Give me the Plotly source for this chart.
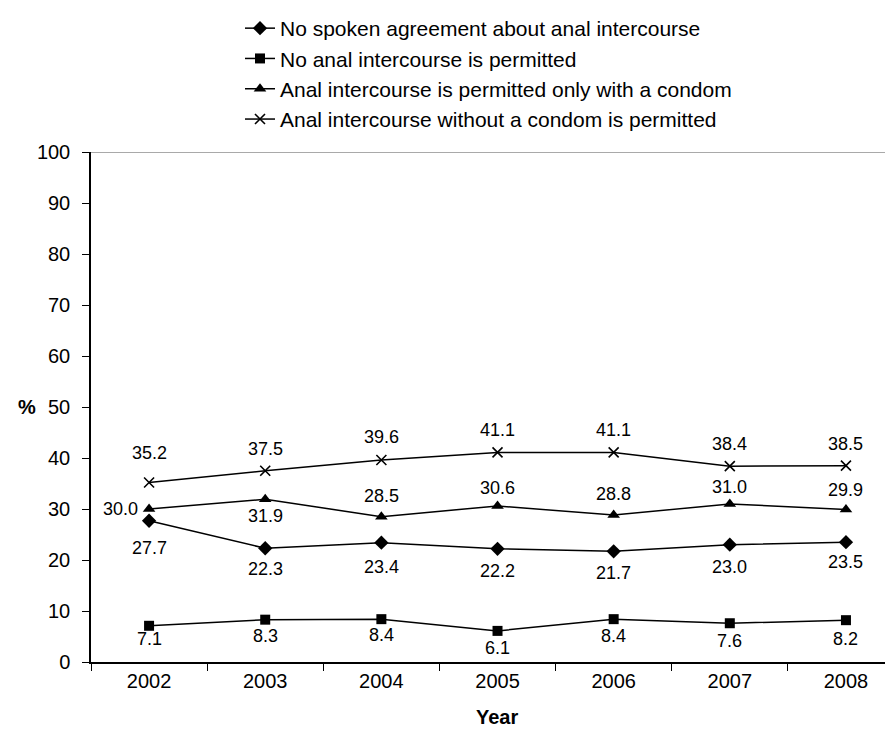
import plotly.graph_objects as go

years = ["2002", "2003", "2004", "2005", "2006", "2007", "2008"]
no_agreement = [27.7, 22.3, 23.4, 22.2, 21.7, 23.0, 23.5]
no_anal = [7.1, 8.3, 8.4, 6.1, 8.4, 7.6, 8.2]
condom_only = [30.0, 31.9, 28.5, 30.6, 28.8, 31.0, 29.9]
without_condom = [35.2, 37.5, 39.6, 41.1, 41.1, 38.4, 38.5]

names = [
    "No spoken agreement about anal intercourse",
    "No anal intercourse is permitted",
    "Anal intercourse is permitted only with a condom",
    "Anal intercourse without a condom is permitted",
]

FONT = "Liberation Sans, Arial, Helvetica, sans-serif"

series = [
    (names[0], no_agreement, dict(symbol="diamond", size=11)),
    (names[1], no_anal, dict(symbol="square", size=10)),
    (names[2], condom_only, dict(symbol="triangle-up", size=11)),
    (names[3], without_condom, dict(symbol="x-thin-open", size=10, line=dict(width=1.6, color="black"))),
]

# label offsets (pixels) for each series' data labels
label_yshift = [
    [-27, -21, -24, -22, -22, -22, -20],
    [-13, -16, -16, -17, -17, -18, -19],
    [0, -17, 21, 18, 21, 17, 20],
    [29, 22, 23, 22, 22, 22, 22],
]
label_xshift = [
    [0] * 7,
    [0] * 7,
    [-29, 0, 0, 0, 0, 0, 0],
    [0] * 7,
]

# page body has an 8px margin; the plot area is placed accordingly
W, H = 885, 721
L, T, B = 83, 137, 67
PW = W - L
PH = H - T - B

fig = go.Figure()
for (name, vals, mk), ys, xs in zip(series, label_yshift, label_xshift):
    fig.add_trace(go.Scatter(
        x=years, y=vals, name=name, mode="lines+markers",
        line=dict(color="black", width=1.5),
        marker=dict(color="black", **mk),
    ))
    for i, (v, dy, dx) in enumerate(zip(vals, ys, xs)):
        fig.add_annotation(x=i, y=v, xref="x", yref="y", text=f"{v:.1f}", showarrow=False,
                           xshift=dx, yshift=dy,
                           font=dict(family=FONT, size=18, color="black"))

fig.add_shape(type="line", xref="paper", yref="y", x0=0, x1=1, y0=100, y1=100,
              line=dict(color="#8c8c8c", width=1.5))

fig.add_annotation(xref="paper", yref="y", x=-(91 - 16) / PW, y=50, text="<b>%</b>",
                   showarrow=False, font=dict(family=FONT, size=20, color="black"))
fig.add_annotation(xref="paper", yref="paper", x=(497 - 91) / PW, y=-(723 - 654) / PH,
                   text="<b>Year</b>", showarrow=False,
                   font=dict(family=FONT, size=20, color="black"))

fig.update_layout(
    width=W, height=H,
    margin=dict(l=L, r=0, t=T, b=B),
    paper_bgcolor="white", plot_bgcolor="white",
    font=dict(family=FONT, size=20, color="black"),
    legend=dict(x=(240 - 91) / PW, xanchor="left", y=1 + (145 + 1) / PH, yanchor="top",
                font=dict(family=FONT, size=21, color="black"),
                bgcolor="rgba(0,0,0,0)", tracegroupgap=0),
    xaxis=dict(type="category", range=[-0.5, 6.405], showgrid=False,
               showline=True, linecolor="black", linewidth=1.5,
               ticks="outside", tickson="boundaries", ticklen=7, tickcolor="black",
               tickfont=dict(family=FONT, size=20, color="black"),
               zeroline=False),
    yaxis=dict(range=[0, 100], dtick=10, showgrid=False, zeroline=False,
               showline=True, linecolor="black", linewidth=1.5,
               ticks="outside", ticklen=7, tickcolor="black", ticklabelstandoff=8,
               tickfont=dict(family=FONT, size=20, color="black")),
)

fig.write_html("out.html")
